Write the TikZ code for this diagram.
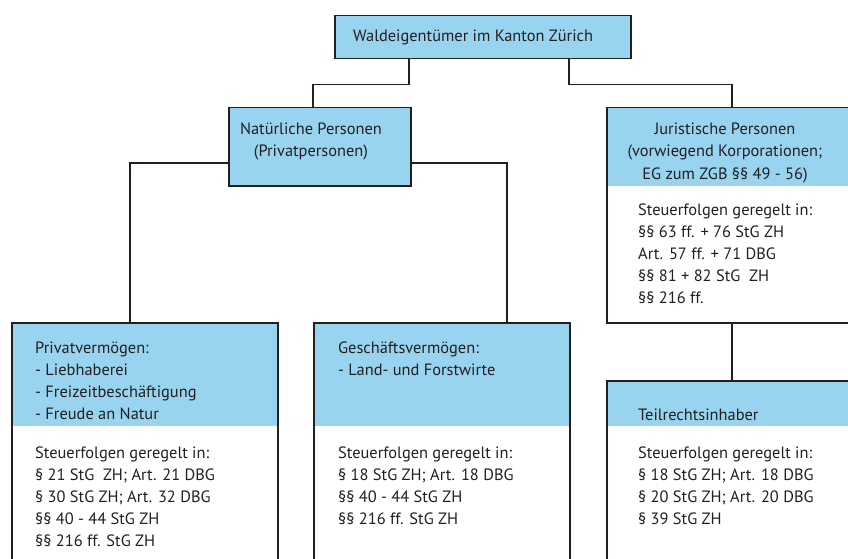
\documentclass[tikz,border=0pt]{standalone}
\usepackage{fontspec}
\setmainfont{PT Sans}
\definecolor{boxblue}{RGB}{152,212,240}
\definecolor{ink}{RGB}{35,31,32}
\begin{document}
\begin{tikzpicture}[x=1pt,y=-1pt,
  box/.style={draw=ink, line width=1.5pt, anchor=north west, inner sep=0pt, minimum width=#1},
  band/.style={fill=boxblue, draw=none},
  conn/.style={draw=ink, line width=1.5pt},
  txt/.style={inner sep=0pt, anchor=base west, font=\fontsize{16.4}{22}\selectfont, text=ink},
  ctxt/.style={inner sep=0pt, anchor=base, font=\fontsize{16.4}{22}\selectfont, text=ink}]
\clip (0,0) rectangle (848,559);
\fill[white] (0,0) rectangle (848,559);
% blue bands
\fill[band] (334,15) rectangle (630,58);
\fill[band] (228,107) rectangle (410,185);
\fill[band] (606,107) rectangle (860,186);
\fill[band] (606,380) rectangle (860,426);
\fill[band] (11,322) rectangle (277,426);
\fill[band] (313,322) rectangle (569,426);
% boxes
\node[box=296pt, minimum height=43pt] (top) at (334,15) {};
\node[box=182pt, minimum height=78pt] (nat) at (228,107) {};
\node[box=252pt, minimum height=215pt] (jur) at (606,107) {};
\node[box=252pt, minimum height=200pt] (teil) at (606,380) {};
\node[box=266pt, minimum height=260pt] (priv) at (11,322) {};
\node[box=256pt, minimum height=260pt] (ges) at (313,322) {};
% connectors
\draw[conn] ([xshift=75pt]top.south west) -- ++(0,25) -| ([xshift=85pt]nat.north west);
\draw[conn] ([xshift=235pt]top.south west) -- ++(0,25) -| ([xshift=126pt]jur.north west);
\draw[conn] ([yshift=-16pt]nat.west) -| ([xshift=119pt]priv.north west);
\draw[conn] ([yshift=-16pt]nat.east) -| ([xshift=194pt]ges.north west);
\draw[conn] ([xshift=126pt]jur.south west) -- ([xshift=126pt]teil.north west);
% texts
\node[txt] (ttop) at (353,42) {Waldeigentümer im Kanton Zürich};
\node[ctxt] (tnat) at (311,135) {\begin{tabular}[t]{@{}c@{}}Natürliche Personen\\(Privatpersonen)\end{tabular}};
\node[ctxt] (tjur) at (725,135) {\begin{tabular}[t]{@{}c@{}}Juristische Personen\\(vorwiegend Korporationen;\\EG zum ZGB §§ 49 - 56)\end{tabular}};
\node[txt] (sjur) at (638,215) {\begin{tabular}[t]{@{}l@{}}Steuerfolgen geregelt in:\\§§ 63 ff. + 76 StG ZH\\Art. 57 ff. + 71 DBG\\§§ 81 + 82 StG\ \ ZH\\§§ 216 ff.\end{tabular}};
\node[txt] (tpriv) at (35,353) {\begin{tabular}[t]{@{}l@{}}Privatvermögen:\\- Liebhaberei\\- Freizeitbeschäftigung\\- Freude an Natur\end{tabular}};
\node[txt] (spriv) at (35,458) {\begin{tabular}[t]{@{}l@{}}Steuerfolgen geregelt in:\\§ 21 StG\ \ ZH; Art. 21 DBG\\§ 30 StG ZH; Art. 32 DBG\\§§ 40 - 44 StG ZH\\§§ 216 ff. StG ZH\end{tabular}};
\node[txt] (tges) at (338,353) {\begin{tabular}[t]{@{}l@{}}Geschäftsvermögen:\\- Land- und Forstwirte\end{tabular}};
\node[txt] (sges) at (338,458) {\begin{tabular}[t]{@{}l@{}}Steuerfolgen geregelt in:\\§ 18 StG ZH; Art. 18 DBG\\§§ 40 - 44 StG ZH\\§§ 216 ff. StG ZH\end{tabular}};
\node[txt] (tteil) at (638,420) {Teilrechtsinhaber};
\node[txt] (steil) at (638,458) {\begin{tabular}[t]{@{}l@{}}Steuerfolgen geregelt in:\\§ 18 StG ZH; Art. 18 DBG\\§ 20 StG ZH; Art. 20 DBG\\§ 39 StG ZH\end{tabular}};
\end{tikzpicture}
\end{document}
